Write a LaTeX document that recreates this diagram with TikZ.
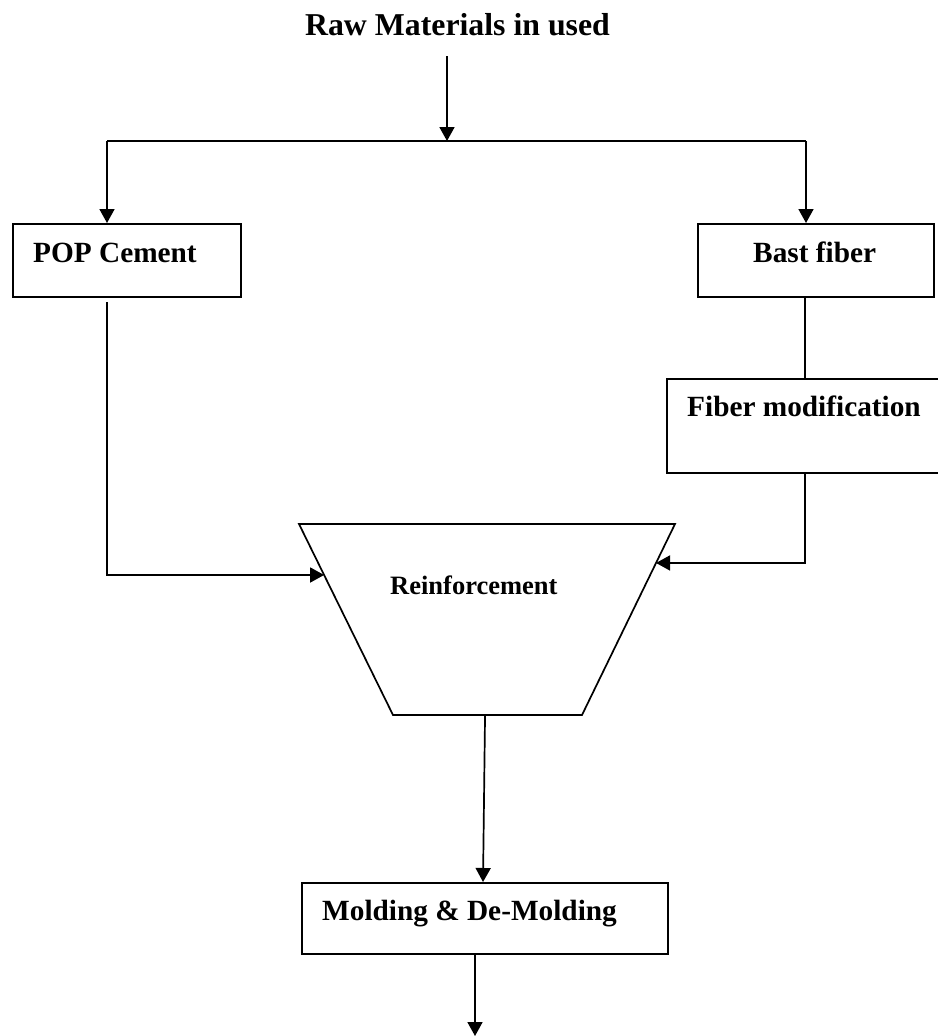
\documentclass[tikz,border=0pt]{standalone}
\usepackage{fontspec}
\setmainfont{Liberation Serif}
\usetikzlibrary{arrows.meta,calc}
\begin{document}
\begin{tikzpicture}[x=1pt,y=-1pt,
  conn/.style={line width=1.7pt},
  arr/.style={conn,-{Triangle[length=14pt,width=15pt]}},
  boxshape/.style={draw,line width=1.8pt,rectangle,inner sep=0pt,anchor=north west},
  big/.style={font=\fontsize{29.3}{34}\selectfont\bfseries,inner sep=0pt,anchor=base west},
  titlestyle/.style={font=\fontsize{31.8}{38}\selectfont\bfseries,inner sep=0pt,anchor=base},
  smalltext/.style={font=\fontsize{26.5}{31}\selectfont\bfseries,inner sep=0pt,anchor=base west},
]
\useasboundingbox (0,0) rectangle (937,1036);

% boxes
\node[boxshape,minimum width=228pt,minimum height=73pt] (pop) at (12,223) {};
\node[boxshape,minimum width=236pt,minimum height=73pt] (bast) at (697,223) {};
\node[boxshape,minimum width=274pt,minimum height=94pt] (fiber) at (666,378) {};
\node[boxshape,minimum width=366pt,minimum height=71pt] (molding) at (301,882) {};

% trapezoid
\coordinate (tl) at (299,524);
\coordinate (tr) at (675,524);
\coordinate (br) at (582,715);
\coordinate (bl) at (393,715);
\draw[line width=1.7pt,line join=miter] (tl) -- (tr) -- (br) -- (bl) -- cycle;

% texts
\node[titlestyle] (title) at (457.5,35) {Raw Materials in used};
\node[big] (poptext) at (33,262) {POP Cement};
\node[big] (basttext) at (753,262) {Bast fiber};
\node[big] (fibertext) at (687,416) {Fiber modification};
\node[smalltext] (reinf) at (390,594) {Reinforcement};
\node[big] (moldtext) at (322,920) {Molding \& De-Molding};

% connectors
\coordinate (tstart) at (447,56);
\coordinate (j) at (447,141);
\coordinate (jl) at (107,141);
\coordinate (jr) at (806,141);
\draw[arr] (tstart) -- (j);
\draw[conn] (jl) -- (jr);
\draw[arr] (jl) -- (jl |- pop.north);
\draw[arr] (jr) -- (jr |- bast.north);

\coordinate (pl) at (107,302);
\coordinate (pc) at (107,575);
\draw[arr] (pl) -- (pc) -- ($(tl)!0.267!(bl)$);

\coordinate (xr) at (805,0);
\coordinate (fc) at (805,563);
\draw[conn] (xr |- bast.south) -- (xr |- fiber.north);
\draw[arr] (xr |- fiber.south) -- (fc) -- ($(tr)!0.204!(br)$);

\coordinate (m1) at (483,0);
\coordinate (m2) at (475,0);
\coordinate (outend) at (475,1036);
\draw[arr] ($(bl)!0.487!(br)$) -- (m1 |- molding.north);
\draw[arr] (m2 |- molding.south) -- (outend);
\end{tikzpicture}
\end{document}
